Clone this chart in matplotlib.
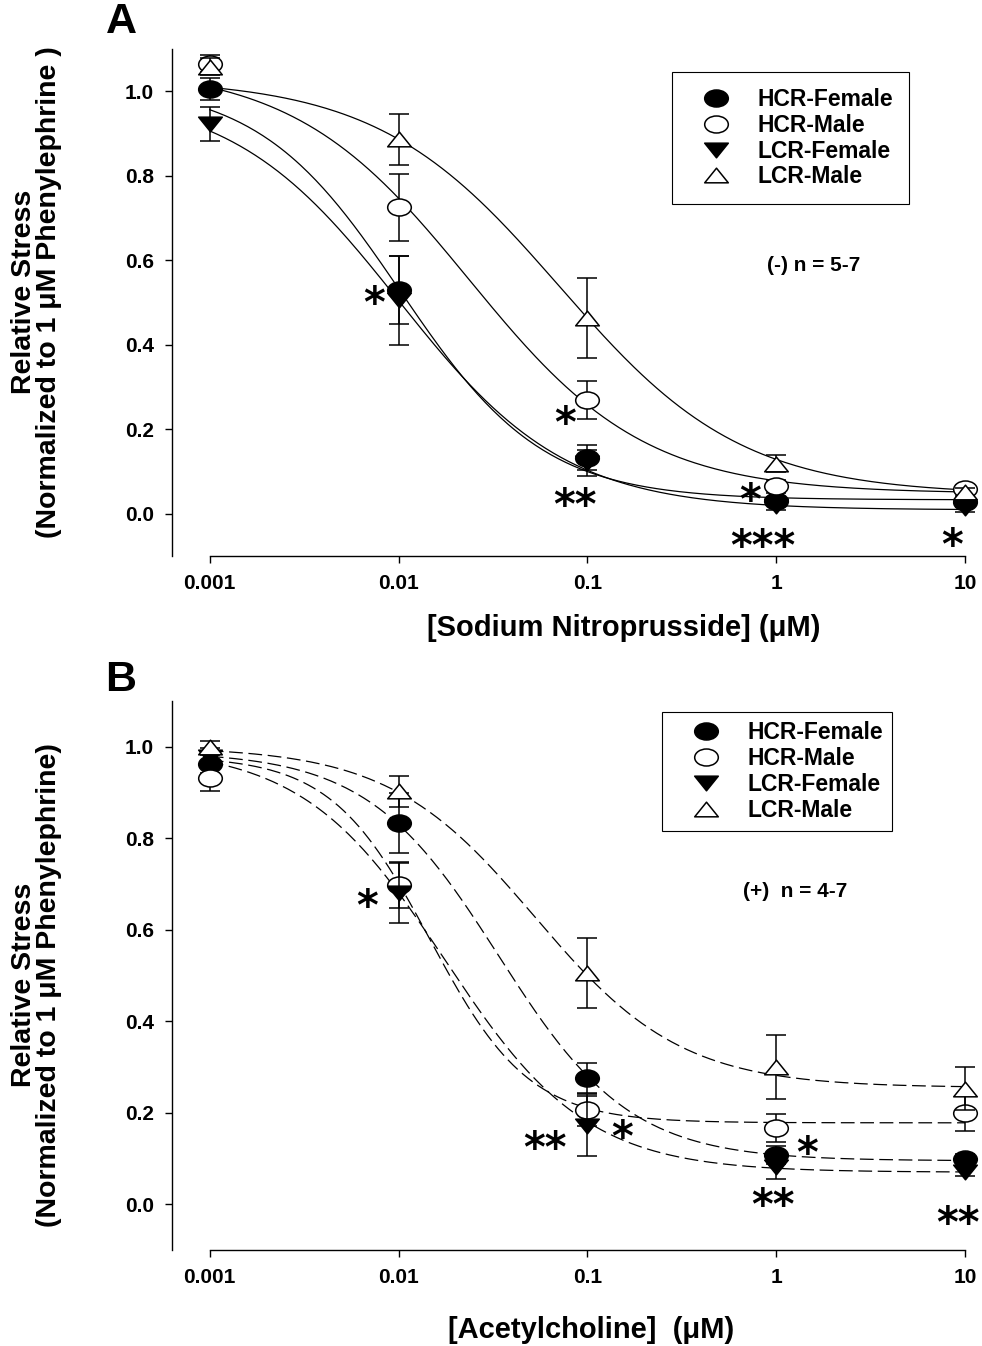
import numpy as np
import matplotlib
matplotlib.use('Agg')
import matplotlib.pyplot as plt
from matplotlib.path import Path
from matplotlib.transforms import Affine2D
from matplotlib.lines import Line2D
from matplotlib.ticker import FixedLocator, FixedFormatter, NullLocator

plt.rcParams['font.family'] = ['Liberation Sans', 'DejaVu Sans']
plt.rcParams['font.weight'] = 'bold'

# concentrations (uM)
conc = [0.001, 0.01, 0.1, 1, 10]
groups = ['HCR-Female', 'HCR-Male', 'LCR-Female', 'LCR-Male']

# Panel A: sodium nitroprusside, mean and SEM
snp_mean = {
    'HCR-Female': [1.005, 0.53, 0.133, 0.03, 0.027],
    'HCR-Male':   [1.065, 0.725, 0.27, 0.065, 0.058],
    'LCR-Female': [0.922, 0.505, 0.12, 0.019, 0.013],
    'LCR-Male':   [1.058, 0.886, 0.463, 0.118, 0.051],
}
snp_sem = {
    'HCR-Female': [0.026, 0.08, 0.03, 0.01, 0.01],
    'HCR-Male':   [0.02, 0.08, 0.045, 0.015, 0.01],
    'LCR-Female': [0.04, 0.105, 0.03, 0.01, 0.01],
    'LCR-Male':   [0.02, 0.06, 0.095, 0.02, 0.01],
}
# sigmoid fit parameters: top, bottom, logEC50, hill
snp_top = [1.02, 1.06, 1.0, 1.03]
snp_bottom = [0.033, 0.048, 0.009, 0.045]
snp_logec50 = [-1.99, -1.626, -2.0, -1.147]
snp_hill = [1.15, 0.932, 0.98, 0.90]

# Panel B: acetylcholine, mean and SEM
ach_mean = {
    'HCR-Female': [0.962, 0.833, 0.276, 0.108, 0.1],
    'HCR-Male':   [0.931, 0.697, 0.206, 0.167, 0.2],
    'LCR-Female': [0.977, 0.68, 0.171, 0.081, 0.071],
    'LCR-Male':   [1.0, 0.903, 0.506, 0.3, 0.253],
}
ach_sem = {
    'HCR-Female': [0.02, 0.065, 0.033, 0.02, 0.01],
    'HCR-Male':   [0.028, 0.05, 0.036, 0.031, 0.039],
    'LCR-Female': [0.02, 0.065, 0.065, 0.025, 0.01],
    'LCR-Male':   [0.012, 0.034, 0.077, 0.07, 0.046],
}
ach_top = [0.99, 0.98, 1.0, 1.0]
ach_bottom = [0.095, 0.178, 0.07, 0.255]
ach_logec50 = [-1.469, -1.834, -1.756, -1.277]
ach_hill = [1.245, 1.654, 1.153, 1.12]

# significance stars: (x, y, text)
snp_stars = [(0.0074, 0.522, '*'), (0.076, 0.239, '*'), (0.086, 0.044, '**'),
             (0.726, 0.056, '*'), (0.85, -0.053, '***'), (8.5, -0.049, '*')]
ach_stars = [(0.0068, 0.675, '*'), (0.0596, 0.146, '**'), (0.152, 0.169, '*'),
             (1.45, 0.135, '*'), (0.96, 0.02, '**'), (9.2, -0.018, '**')]

# squashed circle and triangles, SigmaPlot look
ellipse = Affine2D().scale(1, 0.72).transform_path(Path.unit_circle())
tri_up = Path([(0, 0.62), (-1, -0.62), (1, -0.62), (0, 0.62)], closed=True)
tri_down = Path([(0, -0.62), (-1, 0.62), (1, 0.62), (0, -0.62)], closed=True)
markers = {'HCR-Female': (ellipse, 'k'), 'HCR-Male': (ellipse, 'w'),
           'LCR-Female': (tri_down, 'k'), 'LCR-Male': (tri_up, 'w')}


def sigmoid(x, top, bottom, logec50, hill):
    return bottom + (top - bottom) / (1 + 10 ** ((np.log10(x) - logec50) * hill))


def draw_panel(ax, means, sems, tops, bottoms, logecs, hills, dashed, stars):
    xs = np.logspace(-3, 1, 300)
    for i, g in enumerate(groups):
        line, = ax.plot(xs, sigmoid(xs, tops[i], bottoms[i], logecs[i], hills[i]),
                        color='k', lw=0.9, zorder=2, clip_on=False)
        if dashed:
            line.set_dashes((11, 4.5))
    for i, g in enumerate(groups):
        ax.errorbar(conc, means[g], yerr=sems[g], fmt='none', ecolor='k',
                    elinewidth=1.1, capsize=7, capthick=1.1, zorder=3 + i, clip_on=False)
        m, fc = markers[g]
        ax.plot(conc, means[g], ls='none', marker=m, markersize=17, mfc=fc, mec='k',
                mew=1.1, zorder=3.5 + i, clip_on=False)
    for x, y, s in stars:
        ax.annotate(s, xy=(x, y), xytext=(0, -8.8), textcoords='offset points',
                    ha='center', va='center', fontsize=30, family='DejaVu Sans',
                    fontweight='bold', zorder=10)

    ax.set_xscale('log')
    ax.set_xlim(10 ** -3.2, 10)
    ax.set_ylim(-0.1, 1.1)
    ax.xaxis.set_major_locator(FixedLocator(conc))
    ax.xaxis.set_major_formatter(FixedFormatter(['0.001', '0.01', '0.1', '1', '10']))
    ax.xaxis.set_minor_locator(NullLocator())
    ax.set_yticks([0.0, 0.2, 0.4, 0.6, 0.8, 1.0])
    ax.set_yticklabels(['0.0', '0.2', '0.4', '0.6', '0.8', '1.0'])
    ax.spines['top'].set_visible(False)
    ax.spines['right'].set_visible(False)
    ax.spines['bottom'].set_bounds(0.001, 10)
    for sp in ('left', 'bottom'):
        ax.spines[sp].set_linewidth(1.0)
    ax.tick_params(axis='both', which='major', direction='out', length=5, width=1.0,
                   labelsize=15, pad=8)

    handles = [Line2D([], [], ls='none', marker=markers[g][0], markersize=17,
                      mfc=markers[g][1], mec='k', mew=1.1) for g in groups]
    return handles


fig = plt.figure(figsize=(9.82, 13.46), dpi=100)
W, H = 982, 1346
axA = fig.add_axes([172 / W, (H - 556) / H, (965 - 172) / W, (556 - 49) / H])
axB = fig.add_axes([172 / W, (H - 1250) / H, (965 - 172) / W, (1250 - 701) / H])

hA = draw_panel(axA, snp_mean, snp_sem, snp_top, snp_bottom, snp_logec50, snp_hill,
                False, snp_stars)
hB = draw_panel(axB, ach_mean, ach_sem, ach_top, ach_bottom, ach_logec50, ach_hill,
                True, ach_stars)

# per-panel legend spacing: anchor, borderpad, handlelength, handletextpad
legend_opts = [(axA, hA, (0.6305, 0.9546), 0.7, 2.45, 0.57),
               (axB, hB, (0.618, 0.980), 0.41, 3.0, 0.3)]
for ax, h, anchor, pad, hlen, tpad in legend_opts:
    leg = ax.legend(h, groups, loc='upper left', bbox_to_anchor=anchor, borderaxespad=0,
                    frameon=True, fancybox=False, edgecolor='k', framealpha=1,
                    fontsize=16.5, handlelength=hlen, handletextpad=tpad, labelspacing=0.12,
                    borderpad=pad)
    leg.get_frame().set_linewidth(0.8)
    leg.set_zorder(20)

axA.text(1.585, 0.587, '(-) n = 5-7', ha='center', va='center', fontsize=15, fontweight='bold')
axB.text(1.256, 0.683, '(+)  n = 4-7', ha='center', va='center', fontsize=15, fontweight='bold')

ylab_font = ['Liberation Sans Narrow', 'Liberation Sans']
axA.set_ylabel('Relative Stress\n(Normalized to 1 \u03bcM Phenylephrine )', fontsize=20.5,
               family=ylab_font, fontweight='bold', linespacing=0.95)
axB.set_ylabel('Relative Stress\n(Normalized to 1 \u03bcM Phenylephrine)', fontsize=20.5,
               family=ylab_font, fontweight='bold', linespacing=0.95)
axA.yaxis.set_label_coords(-0.139, 0.52)
axB.yaxis.set_label_coords(-0.139, 0.483)

axA.set_xlabel('[Sodium Nitroprusside] (\u03bcM)', fontsize=21, fontweight='bold')
axB.set_xlabel('[Acetylcholine]  (\u03bcM)', fontsize=21, fontweight='bold')
axA.xaxis.set_label_coords(0.570, -0.115)
axB.xaxis.set_label_coords(0.528, -0.12)

fig.text(121 / W, 1 - 22 / H, 'A', ha='center', va='center', fontsize=31, fontweight='bold')
fig.text(121 / W, 1 - 680 / H, 'B', ha='center', va='center', fontsize=31, fontweight='bold')

fig.savefig('out.png', dpi=100)
